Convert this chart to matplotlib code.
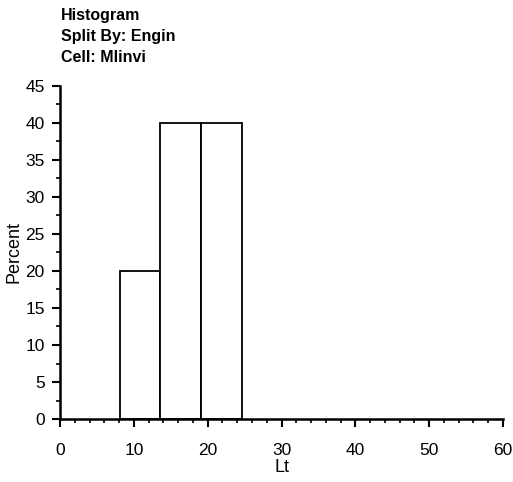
import matplotlib
matplotlib.use("Agg")
import matplotlib.pyplot as plt
from matplotlib.ticker import MultipleLocator

# ── Data ─────────────────────────────────────────────────────────────
bin_edges = [8.1, 13.6, 19.1, 24.6]
percent   = [20, 40, 40]

TITLE_LINES = ["Histogram", "Split By: Engin", "Cell: Mlinvi"]

plt.rcParams["font.family"] = ["Liberation Sans", "DejaVu Sans"]

fig = plt.figure(figsize=(5.13, 4.82), dpi=100)
ax = fig.add_axes([0.117, 0.1307, 0.8635, 0.6909])

lefts  = bin_edges[:-1]
widths = [b - a for a, b in zip(bin_edges[:-1], bin_edges[1:])]
ax.bar(lefts, percent, width=widths, align="edge",
       facecolor="white", edgecolor="black", linewidth=1.3)

ax.set_xlim(0, 60)
ax.set_ylim(0, 45)
ax.xaxis.set_major_locator(MultipleLocator(10))
ax.xaxis.set_minor_locator(MultipleLocator(2))
ax.yaxis.set_major_locator(MultipleLocator(5))
ax.yaxis.set_minor_locator(MultipleLocator(2.5))
ax.tick_params(which="major", length=6, width=1.5, labelsize=12.5)
ax.tick_params(axis="x", which="major", pad=11)
ax.tick_params(axis="y", which="major", pad=5)
ax.tick_params(which="minor", length=3, width=1.2)

ax.spines[["top", "right"]].set_visible(False)
ax.spines[["left", "bottom"]].set_linewidth(1.8)

ax.set_xlabel("Lt", fontsize=13, labelpad=1)
ax.set_ylabel("Percent", fontsize=13)
ax.yaxis.set_label_coords(-0.085, 0.5)

for i, line in enumerate(TITLE_LINES):
    fig.text(0.119, 0.968 - i * 0.044, line, fontsize=11.5,
             fontweight="bold", va="center", ha="left")

fig.savefig("out.png", dpi=100, facecolor="white")
